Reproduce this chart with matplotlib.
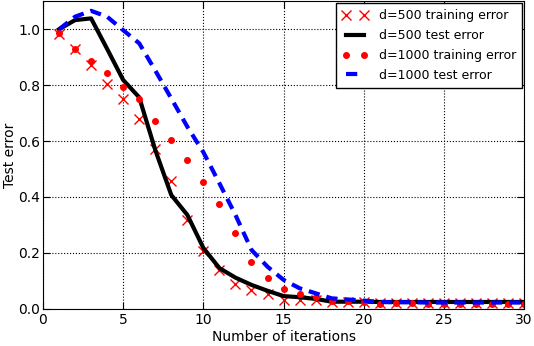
import numpy as np
import matplotlib
matplotlib.use("Agg")
import matplotlib.pyplot as plt

iters = np.arange(1, 31)

train_500 = [0.982, 0.929, 0.871, 0.805, 0.75, 0.679, 0.571, 0.457, 0.318, 0.208,
             0.139, 0.089, 0.068, 0.054, 0.032, 0.032, 0.032, 0.024, 0.024, 0.024,
             0.022, 0.022, 0.022, 0.022, 0.022, 0.022, 0.022, 0.022, 0.022, 0.022]
test_500 = [0.999, 1.032, 1.038, 0.929, 0.818, 0.756, 0.568, 0.407, 0.336, 0.218,
            0.146, 0.112, 0.086, 0.065, 0.046, 0.042, 0.036, 0.026, 0.026, 0.026,
            0.025, 0.025, 0.025, 0.025, 0.025, 0.025, 0.025, 0.025, 0.025, 0.025]
train_1000 = [0.985, 0.93, 0.887, 0.842, 0.794, 0.75, 0.673, 0.604, 0.532, 0.452,
              0.375, 0.27, 0.167, 0.112, 0.07, 0.054, 0.044, 0.029, 0.029, 0.026,
              0.018, 0.02, 0.02, 0.018, 0.019, 0.019, 0.018, 0.019, 0.019, 0.019]
test_1000 = [0.999, 1.044, 1.065, 1.044, 0.996, 0.949, 0.852, 0.752, 0.651, 0.56,
             0.449, 0.336, 0.211, 0.151, 0.104, 0.074, 0.056, 0.038, 0.034, 0.03,
             0.025, 0.024, 0.024, 0.023, 0.023, 0.023, 0.023, 0.023, 0.023, 0.023]

fig = plt.figure(figsize=(5.34, 3.46), dpi=100)
ax = fig.add_axes([0.0805, 0.107, 0.901, 0.890])

ax.plot(iters, train_500, 'x', color='red', markersize=7, mew=1.0, label='d=500 training error')
ax.plot(iters, test_500, '-', color='black', lw=3, label='d=500 test error')
ax.plot(iters, train_1000, 'o', color='red', markersize=4, mec='red', label='d=1000 training error')
ax.plot(iters, test_1000, '--', color='blue', lw=3, dashes=(2.7, 1.7), label='d=1000 test error')

ax.set_xlim(0, 30)
ax.set_ylim(0, 1.1)
ax.set_xticks(range(0, 31, 5))
ax.set_yticks(np.arange(0, 1.01, 0.2))
ax.set_yticklabels(['0.0', '0.2', '0.4', '0.6', '0.8', '1.0'])
ax.tick_params(direction='in', top=True, right=True, labelsize=10, length=5)
ax.tick_params(axis='y', pad=2)
ax.tick_params(axis='x', pad=3)
ax.grid(True, linestyle=':', color='black', lw=0.8)
ax.set_xlabel('Number of iterations', fontsize=10, labelpad=2)
ax.set_ylabel('Test error', fontsize=10, labelpad=1)

leg = ax.legend(loc='upper right', numpoints=2, fontsize=9, fancybox=False,
                framealpha=1, edgecolor='black', handlelength=2.0, handletextpad=0.9,
                borderpad=0.5, borderaxespad=0.15, labelspacing=0.55)
leg.get_frame().set_linewidth(1.0)

fig.savefig('out.png', dpi=100)
